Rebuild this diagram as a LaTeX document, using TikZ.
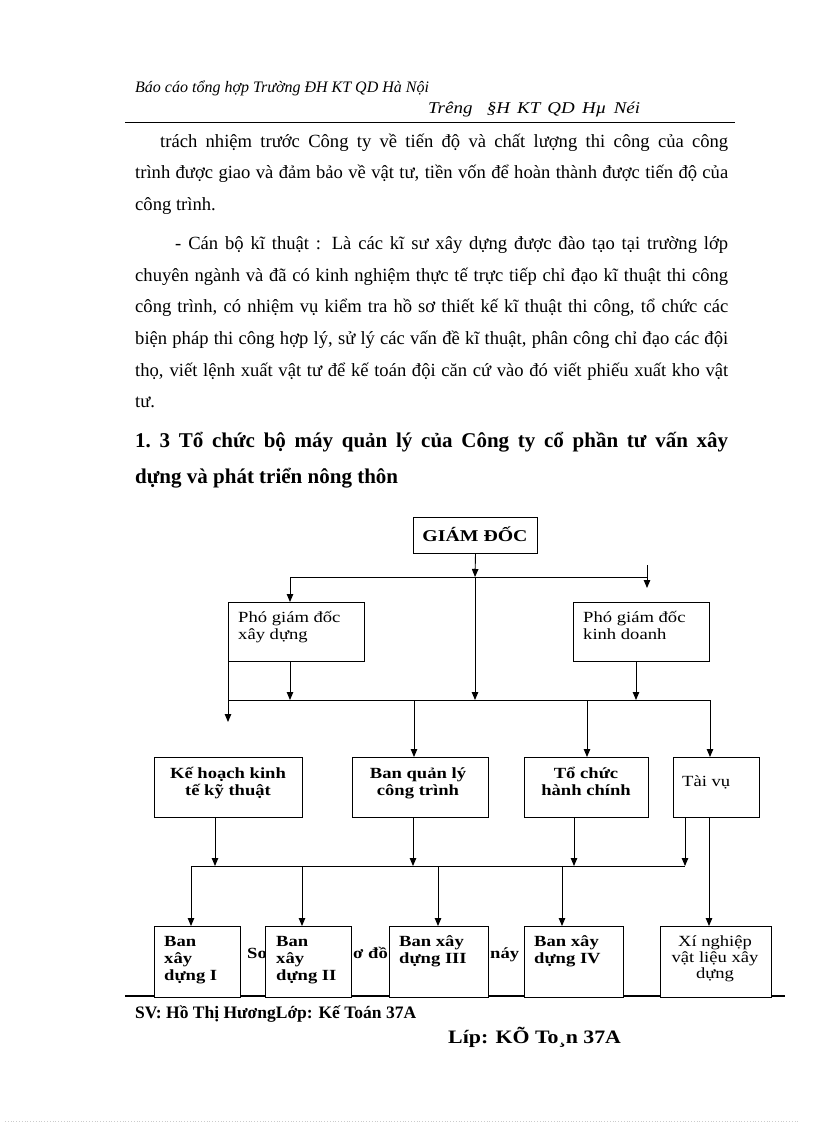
\documentclass[tikz,border=0pt]{standalone}
\usepackage{fontspec}
\setmainfont{Liberation Serif}
\newfontfamily\boxf[FakeStretch=1.2]{Liberation Serif}
\newfontfamily\widef[FakeStretch=1.15]{Liberation Serif}
\usetikzlibrary{arrows.meta}
\begin{document}
\begin{tikzpicture}[x=1pt,y=-1pt,
  box/.style={draw, line width=1pt, fill=white, inner sep=0pt, anchor=north west},
  con/.style={line width=0.9pt},
  arr/.style={con, -{Triangle[length=8pt,width=6.5pt]}},
  tx/.style={inner sep=0pt, anchor=base west},
  tc/.style={inner sep=0pt, anchor=base},
  body/.style={tx, font=\fontsize{18.6}{22}\selectfont},
  head/.style={tx, font=\bfseries\fontsize{21}{25}\selectfont},
  hdr/.style={tx, font=\itshape\fontsize{16}{20}\selectfont},
  bb/.style={font=\boxf\bfseries\fontsize{15.5}{18}\selectfont},
  br/.style={font=\boxf\fontsize{15.5}{18}\selectfont},
]
\useasboundingbox (0,0) rectangle (816,1123);

% header
\node[hdr] (h1) at (135,93) {Báo cáo tổng hợp Trường ĐH KT QD Hà Nội};
\node[hdr, font=\widef\itshape\fontsize{16.5}{20}\selectfont] (h2) at (428,114) {\makebox[212pt][s]{Trêng \ \S H KT QD Hµ Néi}};
\draw[line width=0.8pt] (125,122) coordinate (hr1) -- (735,122) coordinate (hr2);

% paragraph 1
\node[body] (p1) at (160,148) {\makebox[568pt][s]{trách nhiệm trước Công ty về tiến độ và chất lượng thi công của công}};
\node[body] (p2) at (135,179) {\makebox[593pt][s]{trình được giao và đảm bảo về vật tư, tiền vốn để hoàn thành được tiến độ của}};
\node[body] (p3) at (135,211) {công trình.};
% paragraph 2
\node[body] (q1) at (175,249) {\makebox[553pt][s]{- Cán bộ kĩ thuật : Là các kĩ sư xây dựng được đào tạo tại trường lớp}};
\node[body] (q2) at (135,281) {\makebox[593pt][s]{chuyên ngành và đã có kinh nghiệm thực tế trực tiếp chỉ đạo kĩ thuật thi công}};
\node[body] (q3) at (135,312) {\makebox[593pt][s]{công trình, có nhiệm vụ kiểm tra hồ sơ thiết kế kĩ thuật thi công, tổ chức các}};
\node[body] (q4) at (135,344) {\makebox[593pt][s]{biện pháp thi công hợp lý, sử lý các vấn đề kĩ thuật, phân công chỉ đạo các đội}};
\node[body] (q5) at (135,376) {\makebox[593pt][s]{thọ, viết lệnh xuất vật tư để kế toán đội căn cứ vào đó viết phiếu xuất kho vật}};
\node[body] (q6) at (135,407) {tư.};
% heading
\node[head] (t1) at (135,447) {\makebox[593pt][s]{1.~3 Tổ chức bộ máy quản lý của Công ty cổ phần tư vấn xây}};
\node[head] (t2) at (135,483) {dựng và phát triển nông thôn};

% caption fragments behind boxes
\node[tx, bb] (s1) at (247,958) {So};
\node[tx, bb] (s2) at (353,958) {ơ đồ};
\node[tx, bb] (s3) at (490,958) {náy c};
% footer rule
\draw[line width=2pt] (125,996) coordinate (fr1) -- (785,996) coordinate (fr2);

% boxes
\node[box, minimum width=124pt, minimum height=36pt] (gd) at (413,517) {};
\node[box, minimum width=136pt, minimum height=59pt] (pxd) at (228,602) {};
\node[box, minimum width=136pt, minimum height=59pt] (pkd) at (573,602) {};
\node[box, minimum width=148pt, minimum height=60pt] (kh) at (154,757) {};
\node[box, minimum width=136pt, minimum height=60pt] (bql) at (352,757) {};
\node[box, minimum width=124pt, minimum height=60pt] (tc) at (524,757) {};
\node[box, minimum width=86pt, minimum height=60pt] (tv) at (673,757) {};
\node[box, minimum width=86pt, minimum height=71pt] (b1) at (154,926) {};
\node[box, minimum width=86pt, minimum height=71pt] (b2) at (265,926) {};
\node[box, minimum width=99pt, minimum height=71pt] (b3) at (389,926) {};
\node[box, minimum width=99pt, minimum height=71pt] (b4) at (524,926) {};
\node[box, minimum width=111pt, minimum height=71pt] (xn) at (660,926) {};

% box texts
\node[tc, font=\boxf\bfseries\fontsize{16.5}{20}\selectfont] (gdt) at (475,541) {GIÁM ĐỐC};
\node[tx, br] (pxd1) at (238,622) {Phó giám đốc};
\node[tx, br] (pxd2) at (238,639) {xây dựng};
\node[tx, br] (pkd1) at (583,622) {Phó giám đốc};
\node[tx, br] (pkd2) at (583,639) {kinh doanh};
\node[tc, bb] (kh1) at (228,778) {Kế hoạch kinh};
\node[tc, bb] (kh2) at (228,795) {tế kỹ thuật};
\node[tc, bb] (bql1) at (418,778) {Ban quản lý};
\node[tc, bb] (bql2) at (418,795) {công trình};
\node[tc, bb] (tc1) at (586,778) {Tổ chức};
\node[tc, bb] (tc2) at (586,795) {hành chính};
\node[tx, br] (tv1) at (682,786) {Tài vụ};
\node[tx, bb] (b1a) at (164,946) {Ban};
\node[tx, bb] (b1b) at (164,963) {xây};
\node[tx, bb] (b1c) at (164,980) {dựng I};
\node[tx, bb] (b2a) at (276,946) {Ban};
\node[tx, bb] (b2b) at (276,963) {xây};
\node[tx, bb] (b2c) at (276,980) {dựng II};
\node[tx, bb] (b3a) at (399,946) {Ban xây};
\node[tx, bb] (b3b) at (399,963) {dựng III};
\node[tx, bb] (b4a) at (534,946) {Ban xây};
\node[tx, bb] (b4b) at (534,963) {dựng IV};
\node[tc, br] (xn1) at (715,946) {Xí nghiệp};
\node[tc, br] (xn2) at (715,962) {vật liệu xây};
\node[tc, br] (xn3) at (715,978) {dựng};

% connectors level 1
\coordinate (j1) at (475,577);
\coordinate (h1a) at (290,577);
\coordinate (h1b) at (647,577);
\coordinate (r1) at (647,565);
\coordinate (r1e) at (647,588);
\draw[arr] (gd.south) -- (j1);
\draw[con] (h1a) -- (h1b);
\draw[arr] (h1a) -- (h1a |- pxd.north);
\draw[arr] (r1) -- (r1e);

% level 2
\coordinate (h2a) at (228,700);
\coordinate (h2b) at (710,700);
\coordinate (j2c) at (475,700);
\coordinate (l2e) at (228,722);
\coordinate (k1) at (636,0);
\coordinate (d1) at (414,700);
\coordinate (d2) at (587,700);
\draw[con] (h2a) -- (h2b);
\draw[arr] (j1) -- (j2c);
\draw[arr] (pxd.south west) -- (l2e);
\draw[arr] (pxd.south -| h1a) -- (h1a |- h2a);
\draw[arr] (pkd.south -| k1) -- (k1 |- h2a);
\draw[arr] (d1) -- (d1 |- bql.north);
\draw[arr] (d2) -- (d2 |- tc.north);
\draw[arr] (h2b) -- (h2b |- tv.north);

% level 3
\coordinate (h3a) at (191,866);
\coordinate (h3b) at (685,866);
\coordinate (c1) at (215,0);
\coordinate (c2) at (413,0);
\coordinate (c3) at (574,0);
\coordinate (c5) at (709,0);
\coordinate (e2) at (302,866);
\coordinate (e3) at (438,866);
\coordinate (e4) at (562,866);
\draw[con] (h3a) -- (h3b);
\draw[arr] (kh.south -| c1) -- (c1 |- h3a);
\draw[arr] (bql.south -| c2) -- (c2 |- h3a);
\draw[arr] (tc.south -| c3) -- (c3 |- h3a);
\draw[arr] (tv.south -| h3b) -- (h3b);
\draw[arr] (h3a) -- (h3a |- b1.north);
\draw[arr] (e2) -- (e2 |- b2.north);
\draw[arr] (e3) -- (e3 |- b3.north);
\draw[arr] (e4) -- (e4 |- b4.north);
\draw[arr] (tv.south -| c5) -- (c5 |- xn.north);

% footer
\node[tx, font=\bfseries\fontsize{17.5}{22}\selectfont] (f1) at (135,1018) {SV: Hồ Thị HươngLớp: Kế Toán 37A};
\node[tx, font=\widef\bfseries\fontsize{19}{22}\selectfont] (f2) at (448,1043) {Líp: KÕ To¸n 37A};

% page edge
\draw[gray!40, dotted, line width=0.8pt] (5,1121) coordinate (pe1) -- (800,1121) coordinate (pe2);
\end{tikzpicture}
\end{document}
